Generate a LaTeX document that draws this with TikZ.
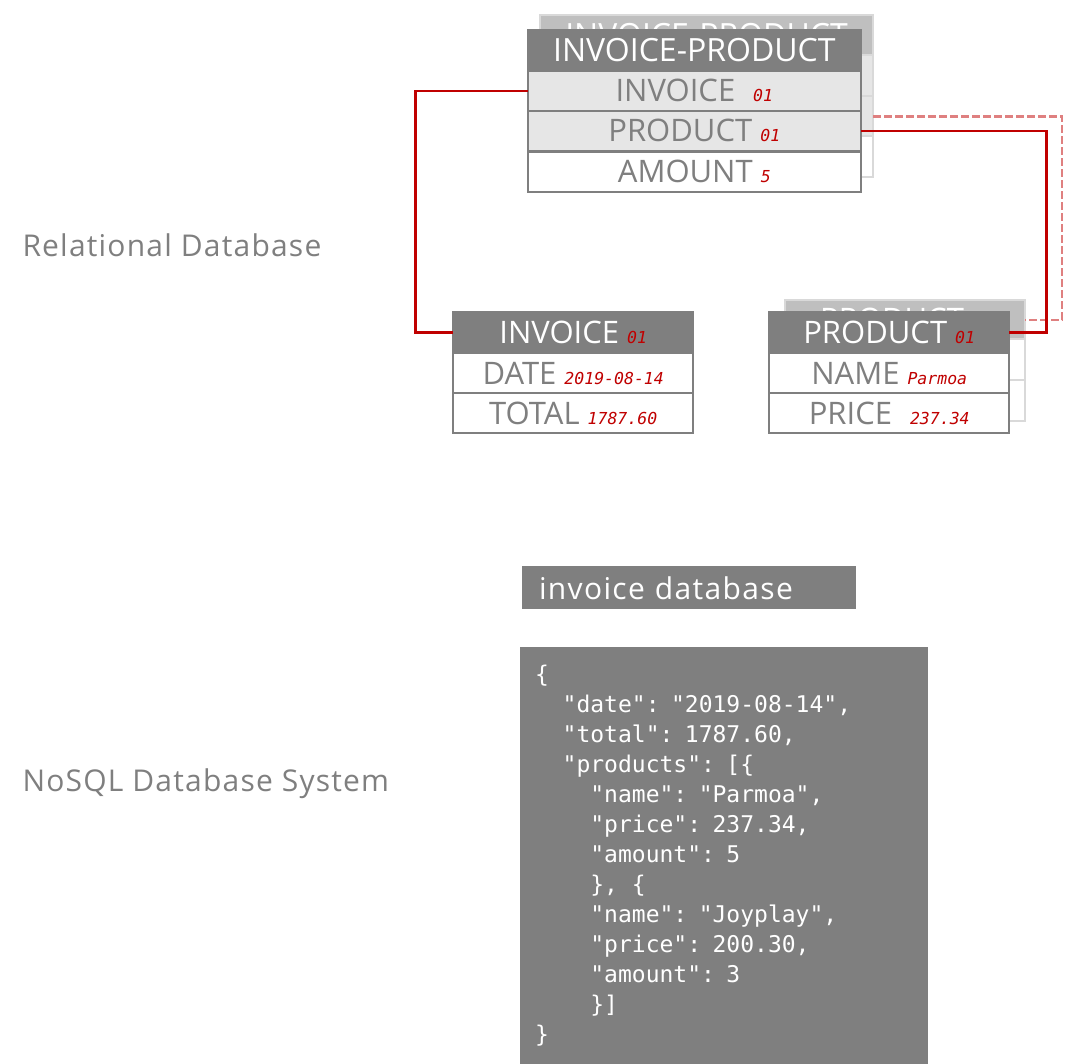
\documentclass[tikz,border=0pt]{standalone}
\usepackage{fontspec}
\setmainfont{Open Sans}
\newfontfamily\labelfont{Open Sans}[LetterSpace=4]
\newfontfamily\titlefont{Open Sans}[LetterSpace=4.5]
\newfontfamily\codefont{DejaVu Sans Mono}
\usetikzlibrary{positioning}
\definecolor{ashgray}{HTML}{7F7F7F}
\definecolor{silver}{HTML}{BFBFBF}
\definecolor{mist}{HTML}{E6E6E6}
\definecolor{haze}{HTML}{D9D9D9}
\definecolor{crimson}{HTML}{C00000}
\newcommand{\keyval}[1]{{\codefont\itshape\fontsize{16.5}{16.5}\selectfont\color{crimson}#1}}
\newcommand{\indcode}[1]{\hspace*{#1\fontcharwd\font`0}}

\begin{document}
\begin{tikzpicture}[x=1pt, y=-1pt,
  every node/.style={inner sep=0pt, outer sep=0pt},
  tabhead/.style={rectangle, draw=ashgray, line width=2pt, fill=ashgray, text=white, minimum height=41pt, font=\fontsize{31}{31}\selectfont, text height=22pt, text depth=0pt},
  tabrow/.style={rectangle, draw=ashgray, line width=2pt, fill=white, text=ashgray, minimum height=40pt, font=\fontsize{31}{31}\selectfont, text height=22pt, text depth=0pt},
  ghosthead/.style={rectangle, draw=haze, line width=2pt, fill=silver, text=white, minimum height=40pt, font=\fontsize{32}{32}\selectfont, text height=22pt, text depth=0pt},
  ghostrow/.style={rectangle, draw=haze, line width=2pt, fill=white, minimum height=40.5pt},
  fkline/.style={crimson, line width=2.7pt},
  fkghost/.style={crimson!50, line width=2.7pt, dash pattern=on 8pt off 3pt},
  sidelabel/.style={anchor=base west, text=ashgray, font=\labelfont\fontsize{30}{30}\selectfont},
  darkbar/.style={rectangle, fill=ashgray, text=white, anchor=north west, align=left}]

\useasboundingbox (0,0) rectangle (1065,1064);

% Section titles
\node[sidelabel] (reltitle) at (22.5,256.7) {Relational Database};
\node[sidelabel] (nosqltitle) at (22.5,791.7) {NoSQL Database System};

% Link table, copy behind
\node[ghosthead, minimum width=333pt, anchor=north] (gip) at (706.5,15.5) {INVOICE-PRODUCT};
\node[ghostrow, fill=mist, minimum width=333pt, below=0pt of gip] (gipinv) {};
\node[ghostrow, fill=mist, minimum width=333pt, below=0pt of gipinv] (gipprod) {};
\node[ghostrow, minimum width=333pt, below=0pt of gipprod] (gipamt) {};

% Link table
\node[tabhead, minimum width=333pt, anchor=north, font=\fontsize{32}{32}\selectfont] (iphead) at (694.3,30) {INVOICE-PRODUCT};
\node[tabrow, fill=mist, minimum width=333pt, below=0pt of iphead] (ipinv) {INVOICE \keyval{\ 01}};
\node[tabrow, fill=mist, minimum width=333pt, below=0pt of ipinv] (ipprod) {PRODUCT \keyval{01}};
\node[tabrow, minimum width=333pt, below=1pt of ipprod] (ipamt) {AMOUNT \keyval{5}};

% Invoice table
\node[tabhead, minimum width=240pt, anchor=north] (invhead) at (573.2,312) {INVOICE \keyval{01}};
\node[tabrow, minimum width=240pt, below=0pt of invhead] (invdate) {DATE \keyval{2019-08-14}};
\node[tabrow, minimum width=240pt, below=0pt of invdate] (invtotal) {TOTAL \keyval{1787.60}};

% Product table, copy behind
\node[ghosthead, minimum width=240pt, minimum height=39pt, anchor=north, font=\fontsize{31}{31}\selectfont] (gprodhead) at (905,300.5) {PRODUCT\hspace*{26pt}};
\node[ghostrow, minimum width=240pt, below=0pt of gprodhead] (gprodname) {};
\node[ghostrow, minimum width=240pt, below=0pt of gprodname] (gprodprice) {};

% Product table
\node[tabhead, minimum width=240pt, anchor=north] (prodhead) at (889.2,312) {PRODUCT \keyval{01}};
\node[tabrow, minimum width=240pt, below=0pt of prodhead] (prodname) {NAME \keyval{Parmoa}};
\node[tabrow, minimum width=240pt, below=0pt of prodname] (prodprice) {PRICE \keyval{\ 237.34}};

% Keys
\draw[fkghost] (gipprod.east) -- ++(189,0) |- (gprodhead.east);
\draw[fkline] (ipinv.west) -- ++(-112,0) |- (invhead.west);
\draw[fkline] (ipprod.east) -- ++(186,0) |- (prodhead.east);

% Document store
\node[darkbar, text width=300pt, inner xsep=17pt, minimum height=43pt, text height=23pt, text depth=0pt, font=\titlefont\fontsize{30}{30}\selectfont] (dbtitle) at (522,566) {invoice database};
\node[darkbar, text width=378pt, inner xsep=15pt, inner ysep=0pt, minimum width=407pt, minimum height=417pt, font=\codefont\fontsize{23}{30}\selectfont] (dbdoc) at (520,647) {\noindent\{\\
\indcode{2}"date": "2019-08-14",\\
\indcode{2}"total": 1787.60,\\
\indcode{2}"products": [\{\\
\indcode{4}"name": "Parmoa",\\
\indcode{4}"price": 237.34,\\
\indcode{4}"amount": 5\\
\indcode{4}\},\indcode{1}\{\\
\indcode{4}"name": "Joyplay",\\
\indcode{4}"price": 200.30,\\
\indcode{4}"amount": 3\\
\indcode{4}\}]\\
\}};

\end{tikzpicture}
\end{document}
